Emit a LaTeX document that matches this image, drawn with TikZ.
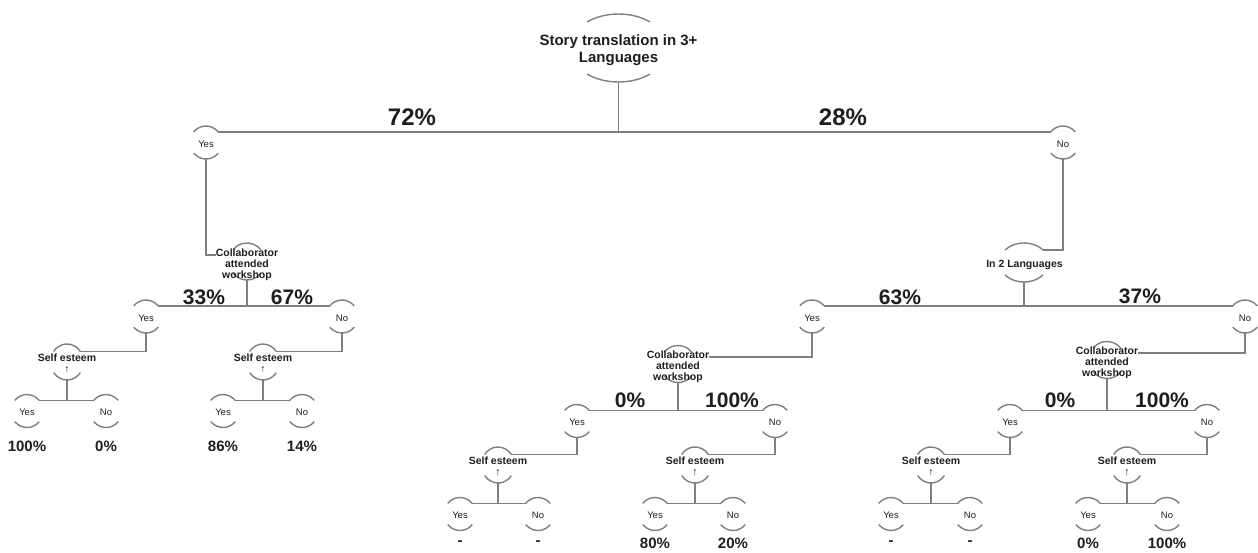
\documentclass[tikz,border=0pt]{standalone}
\usepackage{fontspec}
\setmainfont{Liberation Sans}
\usetikzlibrary{shapes.geometric}
\definecolor{lnc}{HTML}{7F7F7F}
\definecolor{ink}{HTML}{1E1E1E}
\tikzset{
 conn/.style={draw=lnc, line width=1.4pt},
 arcln/.style={draw=lnc, line width=1.4pt},
 holder/.style={ellipse, inner sep=0pt, draw=none},
 yn/.style={font=\fontsize{9.5}{11}\selectfont, text=ink, inner sep=0pt},
 qtxt/.style={font=\bfseries\fontsize{10.5}{11}\selectfont, text=ink, align=center, inner sep=0pt},
 roottxt/.style={font=\bfseries\fontsize{15}{17}\selectfont, text=ink, align=center, inner sep=0pt},
 pct/.style={font=\bfseries\fontsize{21}{24}\selectfont, text=ink, inner sep=0pt},
 toppct/.style={font=\bfseries\fontsize{24}{26}\selectfont, text=ink, inner sep=0pt},
 leafpct/.style={font=\bfseries\fontsize{15}{17}\selectfont, text=ink, inner sep=0pt},
}
% \decnode{name}{x}{y}{rx}{ry}{t}
\newcommand\decnode[6]{%
 \node[holder, minimum width={2*#4}, minimum height={2*#5}] (#1) at (#2,-#3) {};
 \coordinate (#1-ne) at ([shift={(#6:#4pt and #5pt)}]#1.center);
 \coordinate (#1-nw) at ([shift={(180-#6:#4pt and #5pt)}]#1.center);
 \draw[arcln] (#1-ne) arc[start angle=#6, end angle=180-#6, x radius=#4pt, y radius=#5pt];
 \draw[arcln] ([shift={(180+#6:#4pt and #5pt)}]#1.center) arc[start angle=180+#6, end angle=360-#6, x radius=#4pt, y radius=#5pt];
}
% \ynnode{name}{x}{y}{text}
\newcommand\ynnode[4]{%
 \decnode{#1}{#2}{#3}{16}{16.5}{40}
 \node[yn] (#1t) at ([yshift=-1.5pt]#1.center) {#4};
}
% \senode{name}{x}{y}
\newcommand\senode[3]{%
 \decnode{#1}{#2}{#3}{16.5}{18}{36}
 \node[qtxt] (#1t) at ([yshift=-1.5pt]#1.center) {Self esteem\\↑};
}
\begin{document}
\begin{tikzpicture}[x=1pt,y=1pt]
\useasboundingbox (0,0) rectangle (1258,-552);

% root
\decnode{R}{618.5}{48}{49}{34}{50}
\node[roottxt] (Rt) at (618.5,-50.5) {Story translation in 3+\\Languages};

\ynnode{Y1}{206}{142.5}{Yes}
\ynnode{N1}{1063}{142.5}{No}
\draw[conn] (R.south) -- (R.south |- Y1-ne);
\draw[conn] (Y1-ne) -- (N1-nw);
\node[toppct] (p72) at (412,-117) {72\%};
\node[toppct] (p28) at (843,-117) {28\%};

% left collaborator
\decnode{C1}{247}{261.5}{18}{18.5}{40}
\node[qtxt] (C1t) at (247,-265) {Collaborator\\attended\\workshop};
\draw[conn] (Y1.south) |- ([yshift=10pt]C1t.west);

% In 2 languages
\decnode{L}{1024}{262.5}{24.7}{19.5}{40}
\node[qtxt] (Lt) at (1024.5,-265) {In 2 Languages};
\draw[conn] (N1.south) |- (L-ne);

% level 2 left
\ynnode{Y11}{146}{316.5}{Yes}
\ynnode{N11}{342}{316.5}{No}
\draw[conn] (C1.south) -- (C1.south |- Y11-ne);
\draw[conn] (Y11-ne) -- (N11-nw);
\node[pct] (p33) at (204,-297) {33\%};
\node[pct] (p67) at (292,-297) {67\%};

% level 2 right
\ynnode{Y2}{812}{316.5}{Yes}
\ynnode{N2}{1245}{316.5}{No}
\draw[conn] (L.south) -- (L.south |- Y2-ne);
\draw[conn] (Y2-ne) -- (N2-nw);
\node[pct] (p63) at (900,-297) {63\%};
\node[pct] (p37) at (1140,-296) {37\%};

% self esteem left
\senode{S11}{67}{362}
\senode{S12}{263}{362}
\draw[conn] (Y11.south) |- (S11-ne);
\draw[conn] (N11.south) |- (S12-ne);
\ynnode{A1}{27}{411}{Yes}
\ynnode{B1}{106}{411}{No}
\ynnode{A2}{223}{411}{Yes}
\ynnode{B2}{302}{411}{No}
\draw[conn] (S11.south) -- (S11.south |- A1-ne);
\draw[conn] (A1-ne) -- (B1-nw);
\draw[conn] (S12.south) -- (S12.south |- A2-ne);
\draw[conn] (A2-ne) -- (B2-nw);
\node[leafpct] (q1) at (27,-446) {100\%};
\node[leafpct] (q2) at (106,-446) {0\%};
\node[leafpct] (q3) at (223,-446) {86\%};
\node[leafpct] (q4) at (302,-446) {14\%};

% collaborator under Yes 63%
\decnode{C2}{678}{364}{18}{18.5}{40}
\node[qtxt] (C2t) at (678,-367) {Collaborator\\attended\\workshop};
\draw[conn] (Y2.south) |- ([yshift=10pt]C2t.east);
\ynnode{Y21}{577}{421}{Yes}
\ynnode{N21}{775}{421}{No}
\draw[conn] (C2.south) -- (C2.south |- Y21-ne);
\draw[conn] (Y21-ne) -- (N21-nw);
\node[pct] (p0a) at (630,-400) {0\%};
\node[pct] (p100a) at (732,-400) {100\%};
\senode{S21}{498}{465}
\senode{S22}{695}{465}
\draw[conn] (Y21.south) |- (S21-ne);
\draw[conn] (N21.south) |- (S22-ne);
\ynnode{A3}{460}{514}{Yes}
\ynnode{B3}{538}{514}{No}
\ynnode{A4}{655}{514}{Yes}
\ynnode{B4}{733}{514}{No}
\draw[conn] (S21.south) -- (S21.south |- A3-ne);
\draw[conn] (A3-ne) -- (B3-nw);
\draw[conn] (S22.south) -- (S22.south |- A4-ne);
\draw[conn] (A4-ne) -- (B4-nw);
\node[leafpct] (q5) at (460,-543) {-};
\node[leafpct] (q6) at (538,-543) {-};
\node[leafpct] (q7) at (655,-543) {80\%};
\node[leafpct] (q8) at (733,-543) {20\%};

% collaborator under No 37%
\decnode{C3}{1107}{360}{18}{18.5}{40}
\node[qtxt] (C3t) at (1107,-363) {Collaborator\\attended\\workshop};
\draw[conn] (N2.south) |- ([yshift=10pt]C3t.east);
\ynnode{Y31}{1010}{421}{Yes}
\ynnode{N31}{1207}{421}{No}
\draw[conn] (C3.south) -- (C3.south |- Y31-ne);
\draw[conn] (Y31-ne) -- (N31-nw);
\node[pct] (p0b) at (1060,-400) {0\%};
\node[pct] (p100b) at (1162,-400) {100\%};
\senode{S31}{931}{465}
\senode{S32}{1127}{465}
\draw[conn] (Y31.south) |- (S31-ne);
\draw[conn] (N31.south) |- (S32-ne);
\ynnode{A5}{891}{514}{Yes}
\ynnode{B5}{970}{514}{No}
\ynnode{A6}{1088}{514}{Yes}
\ynnode{B6}{1167}{514}{No}
\draw[conn] (S31.south) -- (S31.south |- A5-ne);
\draw[conn] (A5-ne) -- (B5-nw);
\draw[conn] (S32.south) -- (S32.south |- A6-ne);
\draw[conn] (A6-ne) -- (B6-nw);
\node[leafpct] (q9) at (891,-543) {-};
\node[leafpct] (q10) at (970,-543) {-};
\node[leafpct] (q11) at (1088,-543) {0\%};
\node[leafpct] (q12) at (1167,-543) {100\%};
\end{tikzpicture}
\end{document}
